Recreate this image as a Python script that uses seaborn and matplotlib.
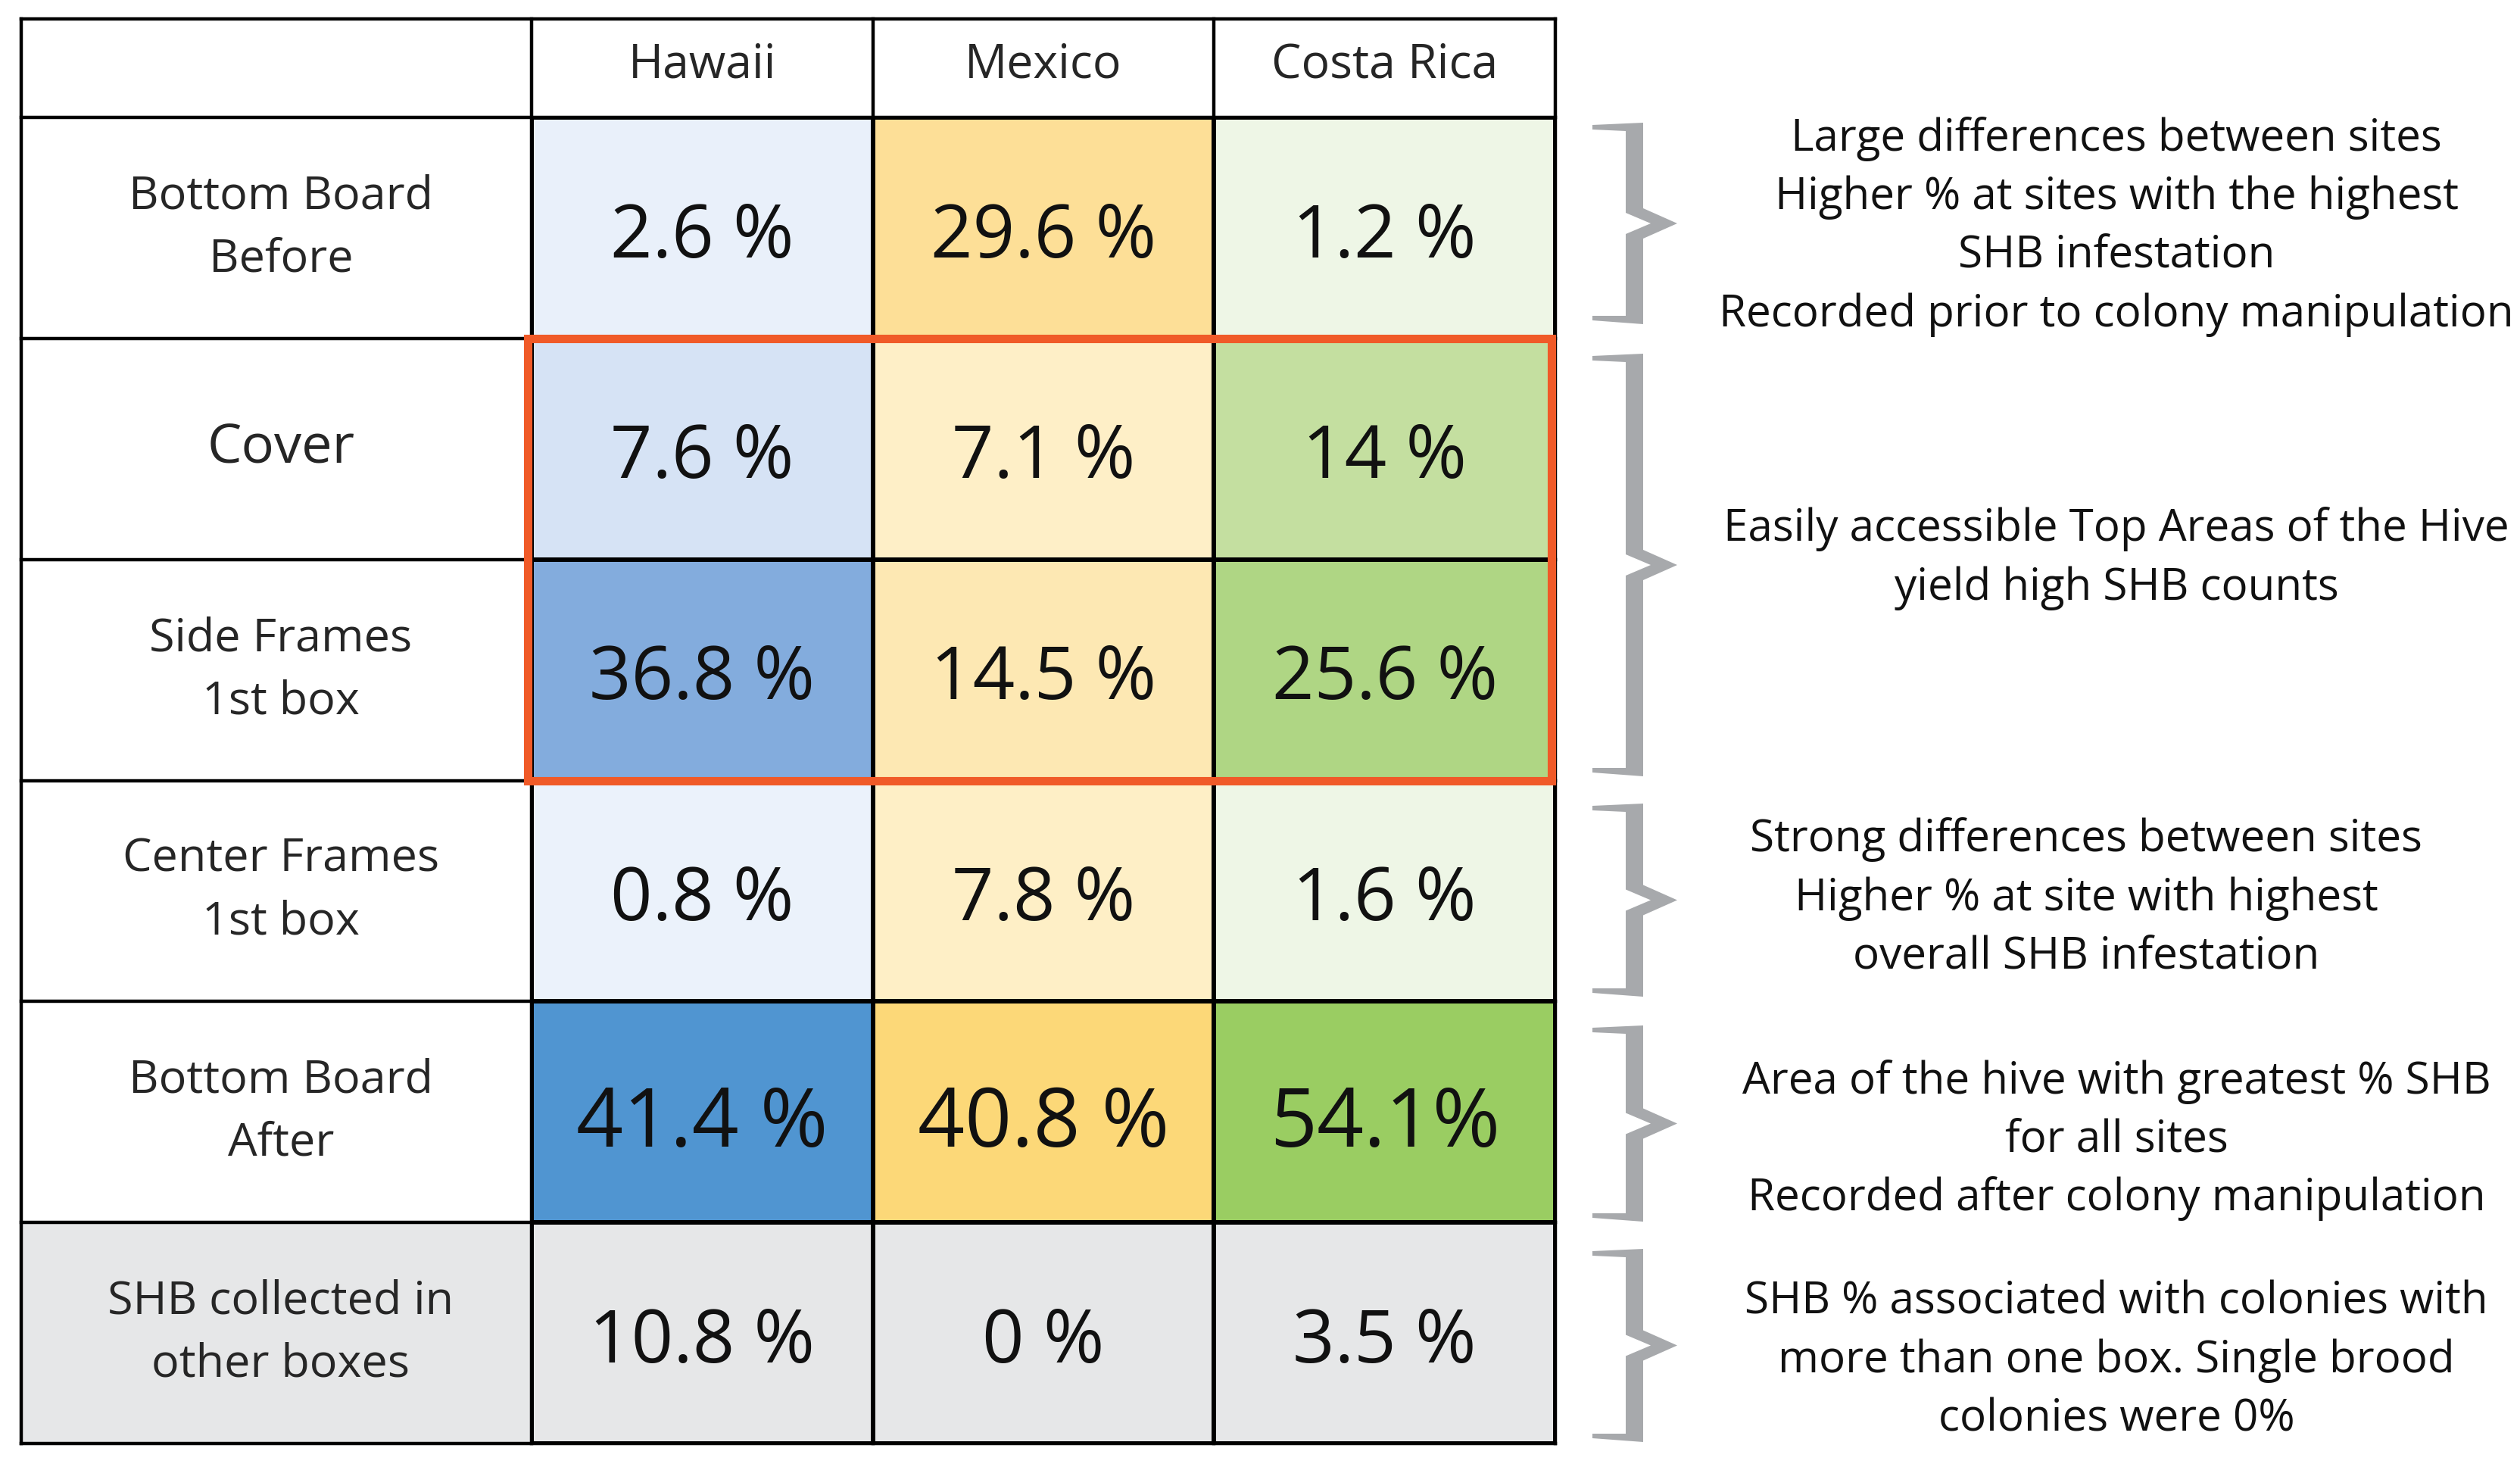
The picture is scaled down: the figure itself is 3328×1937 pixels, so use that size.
import numpy as np
import pandas as pd
import seaborn as sns
import matplotlib
matplotlib.use("Agg")
import matplotlib.pyplot as plt
from matplotlib.colors import LinearSegmentedColormap, ListedColormap
from matplotlib.patches import Rectangle, Polygon

# ---------------- data ----------------
sites = ["Hawaii", "Mexico", "Costa Rica"]
locations = ["Bottom Board\nBefore", "Cover", "Side Frames\n1st box",
             "Center Frames\n1st box", "Bottom Board\nAfter",
             "SHB collected in\nother boxes"]
hawaii = [2.6, 7.6, 36.8, 0.8, 41.4, 10.8]
mexico = [29.6, 7.1, 14.5, 7.8, 40.8, 0.0]
costa_rica = [1.2, 14.0, 25.6, 1.6, 54.1, 3.5]
hawaii_text = ["2.6 %", "7.6 %", "36.8 %", "0.8 %", "41.4 %", "10.8 %"]
mexico_text = ["29.6 %", "7.1 %", "14.5 %", "7.8 %", "40.8 %", "0 %"]
costa_rica_text = ["1.2 %", "14 %", "25.6 %", "1.6 %", "54.1%", "3.5 %"]

notes = [
    ["Large differences between sites", "Higher % at sites with the highest",
     "SHB infestation", "Recorded prior to colony manipulation"],
    ["Easily accessible Top Areas of the Hive", "yield high SHB counts"],
    ["Strong differences between sites", "Higher % at site with highest",
     "overall SHB infestation"],
    ["Area of the hive with greatest % SHB", "for all sites",
     "Recorded after colony manipulation"],
    ["SHB % associated with colonies with", "more than one box. Single brood",
     "colonies were 0%"],
]

# ---------------- styles / layout ----------------
site_ramps = {
    "Hawaii": [(0, "#EBF2FB"), (3, "#E9F0FA"), (8, "#D4E2F4"), (37, "#83ACDD"), (41.4, "#5095D1")],
    "Mexico": [(0, "#FEF2D2"), (8, "#FEEFC6"), (15, "#FDE7B1"), (30, "#FDDF96"), (41, "#FCD878")],
    "Costa Rica": [(0, "#EFF7E7"), (2, "#EEF6E6"), (14, "#C4DFA0"), (26, "#AED683"), (54.1, "#9ACD62")],
}
GRAY = "#E6E7E8"
ORANGE = "#F05A28"
BRACE = "#A7A9AC"

W, H, DPI = 3328, 1937, 100
TABLE_L, DATA_L, DATA_R = 28, 702, 2054
HEAD_TOP, DATA_TOP, DATA_BOT = 25, 155, 1906
PX_PT = DPI / 72.0

sns.set_style("white")
plt.rcParams["font.family"] = ["Open Sans", "DejaVu Sans"]

df = pd.DataFrame({"Hawaii": hawaii, "Mexico": mexico, "Costa Rica": costa_rica},
                  index=locations)
annot = pd.DataFrame({"Hawaii": hawaii_text, "Mexico": mexico_text,
                      "Costa Rica": costa_rica_text}, index=locations)

fig = plt.figure(figsize=(W / DPI, H / DPI), dpi=DPI)
fig.patch.set_facecolor("white")
ax = fig.add_axes([DATA_L / W, 1 - DATA_BOT / H, (DATA_R - DATA_L) / W,
                   (DATA_BOT - DATA_TOP) / H])
ax.set_facecolor("none")

nrow, ncol = df.shape
LW = 3.2
for j, site in enumerate(sites):
    ramp = site_ramps[site]
    vmax = ramp[-1][0]
    cmap = LinearSegmentedColormap.from_list(
        site, [(v / vmax, c) for v, c in ramp])
    mask = np.ones(df.shape, dtype=bool)
    mask[:nrow - 1, j] = False
    sns.heatmap(df, mask=mask, cmap=cmap, vmin=0, vmax=vmax,
                annot=annot.values, fmt="", cbar=False,
                linewidths=LW, linecolor="black", ax=ax,
                annot_kws=dict(fontsize=70, color="#111111"),
                xticklabels=sites, yticklabels=locations)

mask = np.ones(df.shape, dtype=bool)
mask[nrow - 1, :] = False
sns.heatmap(df, mask=mask, cmap=ListedColormap([GRAY]), vmin=0, vmax=1,
            annot=annot.values, fmt="", cbar=False,
            linewidths=LW, linecolor="black", ax=ax,
            annot_kws=dict(fontsize=70, color="#111111"),
            xticklabels=sites, yticklabels=locations)

# value text: slightly below cell centre, bigger for "Bottom Board After"
for t in ax.texts:
    x, y = t.get_position()
    if abs(y - 4.5) < 0.01:
        t.set_fontsize(78)
        t.set_position((x, y + 0.06))
    else:
        t.set_position((x, y + 0.045))

# tick labels: header on top, row labels in the left column
ax.xaxis.tick_top()
ax.xaxis.set_label_position("top")
ax.set_xlabel("")
ax.set_ylabel("")
ax.tick_params(axis="x", length=0, pad=(DATA_TOP - 86) / PX_PT, labelsize=45,
               top=True, bottom=False, labeltop=True, labelbottom=False)
for lbl in ax.get_xticklabels():
    lbl.set_va("center")
    lbl.set_rotation(0)
ax.tick_params(axis="y", length=0, pad=(DATA_L - (TABLE_L + DATA_L) / 2 - 6) / PX_PT,
               labelsize=44)
for lbl in ax.get_yticklabels():
    lbl.set_ha("center")
    lbl.set_va("center")
    lbl.set_multialignment("center")
    lbl.set_linespacing(1.5)
    lbl.set_rotation(0)
    if lbl.get_text() == "Cover":
        lbl.set_fontsize(52)

# table frame outside the heatmap cells
colw = (DATA_R - DATA_L) / ncol
rowh = (DATA_BOT - DATA_TOP) / nrow
xl = (TABLE_L - DATA_L) / colw
yh = -(DATA_TOP - HEAD_TOP) / rowh
ax.add_patch(Rectangle((xl, nrow - 1), -xl, 1, facecolor=GRAY, edgecolor="none",
                       clip_on=False, zorder=0.5))
for y in [yh] + list(range(nrow + 1)):
    ax.plot([xl, ncol], [y, y], color="black", lw=LW, clip_on=False,
            solid_capstyle="projecting", zorder=3)
for x in [xl] + list(range(ncol + 1)):
    ax.plot([x, x], [yh, nrow], color="black", lw=LW, clip_on=False,
            solid_capstyle="projecting", zorder=3)

# orange highlight around Cover + Side Frames
ax.add_patch(Rectangle((-0.012, 1), ncol - 0.0, 2, fill=False, edgecolor=ORANGE,
                       lw=8, clip_on=False, zorder=5))
ax.set_xlim(0, ncol)
ax.set_ylim(nrow, 0)

# ---------------- braces and notes ----------------
ov = fig.add_axes([0, 0, 1, 1])
ov.set_xlim(0, W)
ov.set_ylim(H, 0)
ov.axis("off")

brace_spans = [(162, 428), (467, 1025), (1061, 1316), (1354, 1613), (1649, 1904)]
note_centers = [294, 732, 1181, 1500, 1791]
note_x = [2795, 2795, 2755, 2795, 2795]
L, BL, BR, T, I = 2103, 2147, 2170, 2215, 2180
for (y0, y1) in brace_spans:
    ym = (y0 + y1) / 2
    pts = [(L, y0 + 3), (BR, y0), (BR, ym - 20), (T, ym), (BR, ym + 20),
           (BR, y1), (L, y1 - 5), (L, y1 - 11), (BL, y1 - 11), (BL, ym + 14),
           (I, ym), (BL, ym - 14), (BL, y0 + 11), (L, y0 + 9)]
    ov.add_patch(Polygon(pts, closed=True, facecolor=BRACE, edgecolor="none"))

NOTE_PT = 42
em = NOTE_PT * PX_PT
for lines, yc, xc in zip(notes, note_centers, note_x):
    n = len(lines)
    for i, s in enumerate(lines):
        y = yc + (i - (n - 1) / 2) * 77.5
        ov.text(xc, y + 0.36 * em, s, ha="center", va="baseline",
                fontsize=NOTE_PT, color="#111111")

fig.savefig("out.png", dpi=DPI, facecolor="white")
